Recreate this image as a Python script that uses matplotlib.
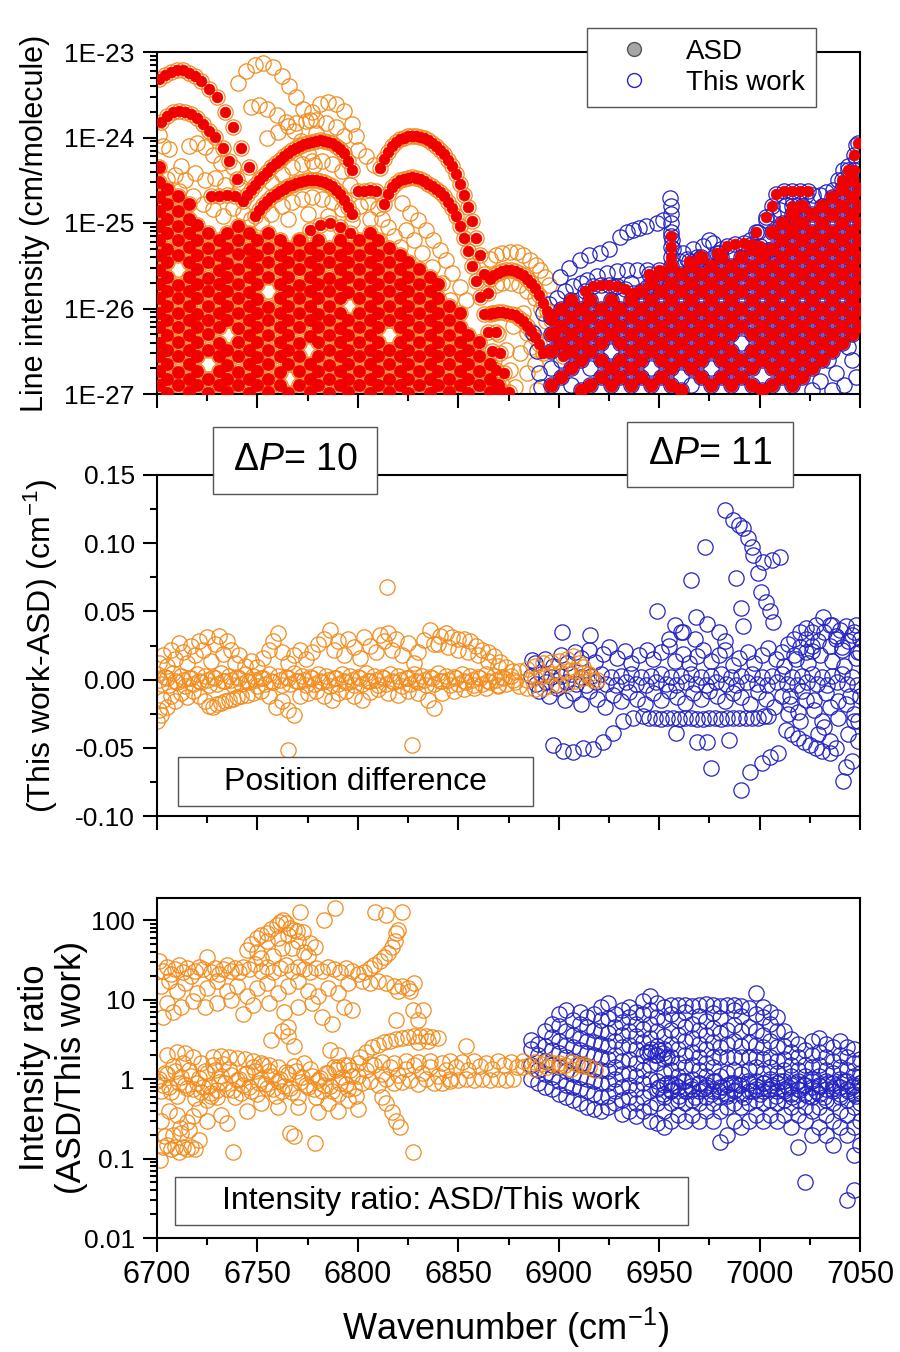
import matplotlib
matplotlib.use('Agg')
import matplotlib.pyplot as plt
from matplotlib.lines import Line2D
from matplotlib.patches import Rectangle
from matplotlib.ticker import MultipleLocator, LogLocator, NullFormatter, FormatStrFormatter

plt.rcParams['font.family'] = ['Liberation Sans', 'DejaVu Sans']
plt.rcParams['mathtext.fontset'] = 'custom'
plt.rcParams['mathtext.rm'] = 'Liberation Sans'
plt.rcParams['mathtext.it'] = 'Liberation Sans:italic'

ORANGE = '#F28C1E'
BLUE = '#2424C4'
RED = '#F00000'

# ---------------- data ----------------
x_ticks = [6700, 6750, 6800, 6850, 6900, 6950, 7000, 7050]
top_ticks = [1e-27, 1e-26, 1e-25, 1e-24, 1e-23]
top_ticklabels = ['1E-27', '1E-26', '1E-25', '1E-24', '1E-23']
ratio_ticks = [0.01, 0.1, 1, 10, 100]
ratio_ticklabels = ['0.01', '0.1', '1', '10', '100']
legend_labels = ['ASD', 'This work']

# top panel, log10 of line intensity (cm/molecule)
# ASD lines, well resolved branches (dP=10)
asd10_arcs = [
    (6701, -23.32), (6704, -23.27), (6707, -23.23), (6710, -23.21), (6713, -23.21), (6716, -23.24),
    (6719, -23.28), (6722, -23.34), (6726, -23.43), (6730, -23.53), (6734, -23.7), (6738, -23.88),
    (6742, -24.12), (6746, -24.35),
    (6702, -23.82), (6705, -23.75), (6708, -23.7), (6711, -23.69), (6714, -23.7), (6717, -23.73),
    (6720, -23.77), (6723, -23.84), (6726, -23.92), (6729, -23.99), (6733, -24.12), (6736, -24.27),
    (6740, -24.48),
    (6727, -24.68), (6731, -24.68), (6735, -24.67), (6739, -24.69),
    (6743, -24.74), (6745, -24.67), (6747, -24.61), (6749, -24.55), (6751, -24.5), (6753, -24.45),
    (6755, -24.4), (6757, -24.35), (6759, -24.3), (6761, -24.26), (6763, -24.22), (6765, -24.18),
    (6767, -24.15), (6769, -24.12), (6771, -24.1), (6773, -24.08), (6775, -24.06), (6777, -24.05),
    (6779, -24.04), (6781, -24.03), (6783, -24.04), (6785, -24.05), (6787, -24.07), (6789, -24.1),
    (6791, -24.13), (6793, -24.18), (6795, -24.27), (6797, -24.38),
    (6749, -24.92), (6751, -24.85), (6753, -24.79), (6755, -24.74), (6757, -24.7), (6759, -24.66),
    (6761, -24.62), (6763, -24.6), (6765, -24.57), (6767, -24.55), (6769, -24.53), (6771, -24.52),
    (6773, -24.51), (6775, -24.5), (6777, -24.5), (6779, -24.5), (6781, -24.51), (6783, -24.52),
    (6785, -24.54), (6787, -24.57), (6789, -24.61), (6791, -24.66), (6793, -24.73), (6795, -24.81),
    (6797, -24.9),
    (6800, -24.62), (6803, -24.62), (6806, -24.61), (6809, -24.63),
    (6811, -24.36), (6813, -24.25), (6815, -24.17), (6817, -24.1), (6819, -24.05), (6821, -24.02),
    (6823, -24.0), (6825, -23.98), (6827, -23.98), (6829, -23.98), (6831, -23.99), (6833, -24.0),
    (6835, -24.03), (6837, -24.06), (6839, -24.1), (6841, -24.15), (6843, -24.19), (6845, -24.26),
    (6847, -24.33), (6849, -24.43), (6851, -24.54), (6853, -24.67), (6855, -24.81), (6857, -24.98),
    (6859, -25.18), (6861, -25.38), (6863, -25.6), (6865, -25.82), (6867, -26.05), (6869, -26.28),
    (6871, -26.52), (6873, -26.76), (6875, -26.98),
    (6813, -24.78), (6815, -24.66), (6817, -24.58), (6819, -24.53), (6821, -24.5), (6823, -24.48),
    (6825, -24.47), (6827, -24.46), (6829, -24.47), (6831, -24.48), (6833, -24.51), (6835, -24.54),
    (6837, -24.57), (6839, -24.6), (6841, -24.64), (6843, -24.69), (6845, -24.75), (6847, -24.83),
    (6849, -24.92), (6851, -25.04), (6853, -25.18), (6855, -25.33), (6857, -25.5), (6859, -25.68),
    (6861, -25.87), (6863, -26.07), (6865, -26.28), (6867, -26.5), (6869, -26.72), (6871, -26.95),
    (6866, -25.66), (6868, -25.61), (6870, -25.58), (6872, -25.56), (6874, -25.55), (6876, -25.55),
    (6878, -25.56), (6880, -25.58), (6882, -25.61), (6884, -25.65), (6886, -25.7), (6888, -25.76),
    (6890, -25.84), (6892, -25.93), (6894, -26.03), (6896, -26.14), (6898, -26.27), (6900, -26.41),
    (6902, -26.56),
    (6866, -26.06), (6868, -26.05), (6870, -26.04), (6872, -26.04), (6874, -26.05), (6876, -26.06),
    (6878, -26.08), (6880, -26.11), (6882, -26.15), (6884, -26.2), (6886, -26.26), (6888, -26.33),
    (6890, -26.42), (6892, -26.52),
    (6771, -25.2), (6776, -25.08), (6781, -25.02), (6786, -25.0), (6791, -25.05), (6796, -25.12),
]

# dense weak ASD lines of dP=10, by column
blob10_x = [6701, 6705, 6710.5, 6716, 6720, 6725.5, 6731, 6735, 6740.5, 6746, 6750, 6755.5,
            6761, 6765, 6770.5, 6776, 6780, 6785.5, 6791, 6795, 6800.5, 6806, 6810, 6815.5,
            6821, 6825, 6830.5, 6836, 6840, 6845.5, 6851, 6855, 6860.5, 6866, 6870]
blob10_logs = [
    [-24.35, -24.52, -24.7, -24.86, -25.03, -25.2, -25.37, -25.55, -25.71, -25.88, -26.05, -26.22, -26.4, -26.56, -26.73, -26.9],
    [-24.6, -24.78, -24.95, -25.12, -25.3, -25.46, -25.63, -25.8, -25.97, -26.14, -26.31, -26.48, -26.65, -26.82, -26.99],
    [-24.69, -24.86, -25.04, -25.2, -25.37, -25.72, -25.88, -26.05, -26.22, -26.39, -26.56, -26.74, -26.9],
    [-24.78, -24.95, -25.12, -25.28, -25.46, -25.63, -25.8, -25.97, -26.14, -26.31, -26.48, -26.65, -26.82, -26.98],
    [-25.02, -25.2, -25.37, -25.54, -25.71, -25.88, -26.06, -26.22, -26.39, -26.56, -26.73, -26.9],
    [-25.12, -25.29, -25.46, -25.64, -25.8, -25.97, -26.14, -26.3, -26.48, -26.82, -26.99],
    [-25.2, -25.37, -25.55, -25.71, -25.88, -26.05, -26.22, -26.4, -26.56, -26.73, -26.9],
    [-25.12, -25.29, -25.47, -25.63, -25.8, -25.97, -26.14, -26.48, -26.66, -26.82, -26.98],
    [-25.03, -25.2, -25.36, -25.54, -25.71, -25.88, -26.05, -26.23, -26.39, -26.56, -26.74, -26.9],
    [-25.12, -25.3, -25.46, -25.63, -25.81, -25.97, -26.14, -26.31, -26.48, -26.65, -26.82, -26.99],
    [-25.2, -25.37, -25.54, -25.71, -25.89, -26.05, -26.22, -26.39, -26.57, -26.73, -26.9],
    [-25.12, -25.29, -25.46, -25.63, -25.98, -26.14, -26.31, -26.48, -26.65, -26.82, -26.98],
    [-25.2, -25.38, -25.54, -25.71, -25.88, -26.05, -26.22, -26.39, -26.56, -26.74, -26.9],
    [-25.29, -25.46, -25.63, -25.8, -25.97, -26.14, -26.31, -26.48, -26.65, -26.99],
    [-25.2, -25.37, -25.54, -25.72, -25.88, -26.05, -26.22, -26.4, -26.56, -26.73, -26.9],
    [-25.29, -25.46, -25.63, -25.8, -25.97, -26.14, -26.32, -26.65, -26.82, -26.98],
    [-25.2, -25.37, -25.54, -25.71, -25.88, -26.06, -26.22, -26.39, -26.56, -26.73, -26.9],
    [-25.29, -25.46, -25.64, -25.8, -25.97, -26.14, -26.31, -26.48, -26.66, -26.82, -26.99],
    [-25.2, -25.37, -25.54, -25.71, -25.88, -26.05, -26.23, -26.39, -26.56, -26.73, -26.9],
    [-25.29, -25.46, -25.63, -25.81, -26.14, -26.31, -26.48, -26.65, -26.82, -26.98],
    [-25.2, -25.37, -25.54, -25.71, -25.88, -26.05, -26.22, -26.39, -26.56, -26.73, -26.9],
    [-25.12, -25.29, -25.46, -25.63, -25.8, -25.97, -26.14, -26.31, -26.48, -26.65, -26.82, -26.99],
    [-25.2, -25.37, -25.54, -25.71, -25.88, -26.05, -26.22, -26.39, -26.56, -26.73, -26.9],
    [-25.29, -25.46, -25.63, -25.8, -25.97, -26.14, -26.48, -26.65, -26.82, -26.98],
    [-25.37, -25.54, -25.71, -25.88, -26.05, -26.22, -26.39, -26.56, -26.73, -26.9],
    [-25.46, -25.63, -25.8, -25.97, -26.14, -26.31, -26.48, -26.65, -26.82, -26.99],
    [-25.54, -25.71, -25.88, -26.05, -26.22, -26.39, -26.56, -26.73, -26.9],
    [-25.63, -25.8, -25.97, -26.14, -26.31, -26.48, -26.65, -26.82, -26.99],
    [-25.71, -25.88, -26.05, -26.22, -26.39, -26.56, -26.73, -26.9],
    [-25.97, -26.14, -26.31, -26.48, -26.65, -26.82, -26.98],
    [-26.05, -26.22, -26.39, -26.56, -26.73, -26.9],
    [-26.31, -26.48, -26.65, -26.82, -26.99],
    [-26.39, -26.56, -26.73, -26.9],
    [-26.65, -26.82, -26.98],
    [-26.9],
]

# dense ASD lines of dP=11, by column
blob11_x = [6896, 6901, 6906, 6911, 6915.5, 6921, 6926, 6930.5, 6936, 6941, 6946, 6951, 6956,
            6961, 6966, 6971, 6976, 6981, 6986, 6991, 6996, 7001, 7006, 7011, 7016, 7021, 7026,
            7031, 7036, 7041, 7046, 7050]
blob11_logs = [
    [-26.1, -26.3, -26.5, -26.9],
    [-26.0, -26.2, -26.4, -26.8],
    [-25.9, -26.1, -26.3, -26.5, -26.7],
    [-26.0, -26.2, -26.4, -26.6, -26.95],
    [-25.9, -26.1, -26.3, -26.5, -26.9],
    [-26.0, -26.2, -26.4, -26.6, -26.8],
    [-25.9, -26.1, -26.3, -26.7, -26.9],
    [-26.0, -26.2, -26.4, -26.6, -26.8],
    [-25.9, -26.1, -26.3, -26.5, -26.7, -26.9],
    [-25.8, -26.0, -26.2, -26.4, -26.6, -26.8],
    [-25.7, -25.9, -26.1, -26.3, -26.5, -26.9],
    [-25.6, -25.8, -26.0, -26.2, -26.4, -26.6, -26.8],
    [-25.5, -25.7, -25.9, -26.1, -26.3, -26.5, -26.7, -26.9],
    [-25.6, -25.8, -26.0, -26.2, -26.4, -26.6, -26.95],
    [-25.5, -25.7, -25.9, -26.1, -26.3, -26.5, -26.7],
    [-25.4, -25.6, -25.8, -26.0, -26.2, -26.4, -26.6, -26.8],
    [-25.5, -25.7, -25.9, -26.1, -26.3, -26.5, -26.9],
    [-25.4, -25.6, -25.8, -26.0, -26.2, -26.4, -26.6, -26.8],
    [-25.5, -25.7, -25.9, -26.1, -26.3, -26.5, -26.7, -26.9],
    [-25.4, -25.6, -25.8, -26.0, -26.2, -26.6, -26.8],
    [-25.3, -25.5, -25.7, -25.9, -26.1, -26.3, -26.5, -26.7, -26.9],
    [-25.4, -25.6, -25.8, -26.0, -26.2, -26.4, -26.6, -26.95],
    [-25.1, -25.3, -25.5, -25.7, -25.9, -26.1, -26.3, -26.5, -26.7, -26.9],
    [-25.0, -25.2, -25.4, -25.6, -25.8, -26.0, -26.2, -26.4, -26.6, -26.8],
    [-24.9, -25.1, -25.3, -25.5, -25.7, -25.9, -26.1, -26.3, -26.5, -26.7, -26.9],
    [-24.8, -25.0, -25.2, -25.4, -25.6, -25.8, -26.0, -26.2, -26.4, -26.6, -26.8],
    [-24.9, -25.1, -25.3, -25.5, -25.7, -25.9, -26.1, -26.3, -26.5, -26.7],
    [-24.8, -25.0, -25.2, -25.4, -25.6, -25.8, -26.0, -26.2, -26.4, -26.6],
    [-24.7, -24.9, -25.1, -25.3, -25.5, -25.7, -25.9, -26.1, -26.3, -26.5],
    [-24.6, -24.8, -25.0, -25.2, -25.4, -25.6, -25.8, -26.0, -26.2, -26.4],
    [-24.5, -24.7, -24.9, -25.1, -25.3, -25.5, -25.7, -25.9, -26.1, -26.3],
    [-24.6, -24.8, -25.0, -25.2, -25.4, -25.6, -25.8, -26.0, -26.2],
]

asd11_lines = [
    (6913, -25.8), (6917, -25.74), (6921, -25.72), (6925, -25.72), (6929, -25.74), (6933, -25.77), (6937, -25.82),
    (6980, -25.35), (6984, -25.27), (6988, -25.24), (6992, -25.23), (6996, -25.24), (7000, -25.27), (7004, -25.32),
    (6998, -25.1), (7003, -24.93), (7006, -24.8), (7008, -24.66), (7012, -24.63), (7016, -24.62), (7020, -24.62),
    (7024, -24.63), (7041, -24.5), (7044, -24.38), (7047, -24.38), (7047, -24.2), (7049, -24.07),
    (6956, -25.15), (6956, -25.28), (6956, -25.4), (7016, -24.8), (7017, -24.92), (7016, -25.05),
    (6978.6, -25.35), (6965, -25.45), (6970, -25.42), (6945, -25.6), (6950, -25.55),
]

# lines of this work without a visible ASD counterpart (dP=10, orange)
tw10_extra = [
    (6740.5, -23.36), (6744.5, -23.22), (6749, -23.15), (6753, -23.13), (6758, -23.17), (6762, -23.28),
    (6765.5, -23.4), (6769, -23.53), (6772.5, -23.67), (6776, -23.8), (6779, -23.95),
    (6777, -23.7), (6781, -23.61), (6785, -23.58), (6789, -23.61), (6793, -23.69), (6797, -23.84), (6799, -23.98),
    (6747, -23.64), (6751, -23.62), (6755, -23.67), (6759.5, -23.74), (6764, -23.82), (6768, -23.92),
    (6771.5, -24.04), (6775, -24.18), (6778, -24.32),
    (6755, -24.0), (6760, -23.93), (6765, -23.87), (6769, -23.83), (6774, -23.81), (6779, -23.8),
    (6784, -23.83), (6789, -23.88), (6793, -23.98),
    (6701, -23.97), (6703, -24.1), (6706, -24.14), (6712, -24.33), (6716, -24.1), (6720, -24.07),
    (6724, -24.11), (6728, -24.2), (6732, -24.3),
    (6705, -24.48), (6709, -24.44), (6714, -24.5), (6719, -24.42), (6724, -24.5), (6729, -24.47),
    (6734, -24.55), (6738, -24.35), (6742, -24.58), (6745, -24.45),
    (6711, -24.62), (6718, -24.68), (6723, -24.78), (6728, -24.84), (6733, -24.92), (6738, -24.83),
    (6743, -24.88), (6747, -24.95),
    (6757, -24.52), (6762, -24.43), (6767, -24.35), (6772, -24.31), (6777, -24.28), (6782, -24.28),
    (6787, -24.31), (6792, -24.39), (6796, -24.55),
    (6752, -25.0), (6757, -24.9), (6762, -24.8), (6767, -24.75), (6772, -24.72), (6777, -24.7),
    (6782, -24.72), (6787, -24.76), (6792, -24.84), (6797, -24.98), (6765, -24.95), (6775, -24.9), (6785, -24.92),
    (6800, -24.15), (6804, -24.22), (6808, -24.32), (6801, -24.8), (6805, -24.75), (6810, -24.82),
    (6806, -24.95), (6812, -24.95), (6815, -25.05), (6818, -25.15),
    (6821.8, -24.77), (6826, -24.88), (6830, -24.97), (6834, -25.08), (6837.5, -25.2), (6841, -25.32),
    (6844, -25.43), (6847, -25.59), (6851, -25.75), (6854, -25.9),
    (6824, -25.08), (6828, -25.2), (6832, -25.35), (6837, -25.51), (6842, -25.7), (6846, -25.9), (6821, -25.28),
    (6866, -25.42), (6869, -25.38), (6872, -25.35), (6875.7, -25.34), (6879, -25.34), (6882, -25.37),
    (6885.7, -25.43), (6888.5, -25.49), (6890.6, -25.55), (6893, -25.63), (6895, -25.72),
    (6869, -25.72), (6872, -25.7), (6876, -25.7), (6880, -25.73), (6884, -25.79), (6888, -25.88),
    (6891, -26.0), (6893.5, -26.15),
    (6877, -26.21), (6884, -26.29), (6880.7, -26.52), (6875.7, -26.72), (6878, -26.92), (6874, -26.48),
    (6882, -26.05), (6886, -26.45), (6884, -26.75), (6870, -26.3), (6868, -26.6), (6872, -26.9),
    (6888, -26.65), (6889, -26.95),
    (6710.5, -25.54), (6725.5, -26.65), (6735, -26.31), (6755.5, -25.8), (6765, -26.82),
    (6776, -26.48), (6795, -25.97), (6815.5, -26.31),
]

# lines of this work without a visible ASD counterpart (dP=11, blue)
tw11_extra = [
    (6887, -26.29), (6889, -26.5), (6890, -26.75), (6891, -26.92), (6892, -26.05), (6895, -25.95),
    (6899, -25.88), (6903, -25.8), (6907, -25.74), (6911, -25.7), (6914, -25.67), (6919, -25.62),
    (6924, -25.59), (6929, -25.56), (6934, -25.55), (6939, -25.55), (6944, -25.55),
    (6900.6, -25.63), (6905, -25.53), (6910.5, -25.43), (6915, -25.38), (6920.5, -25.35), (6925, -25.3),
    (6930.5, -25.16), (6934, -25.11), (6937, -25.08), (6940, -25.06), (6943.7, -25.04), (6948.7, -25.0),
    (6952, -24.96),
    (6955.5, -24.71), (6956, -24.8), (6956, -24.9), (6956, -25.0), (6956, -25.1), (6956.5, -25.2), (6957, -25.3),
    (6962, -25.35), (6967, -25.3), (6972, -25.27), (6977, -25.23), (6975, -25.2), (6960, -25.45),
    (6964, -25.42), (6969, -25.4), (6981, -25.3), (6985, -25.35),
    (6995, -25.2), (6999, -25.1), (7003.4, -24.96), (7006.5, -24.9), (7010, -24.85), (7013, -24.79),
    (7016.6, -24.73), (7020, -24.7), (7023, -24.67), (7026.5, -24.67), (7030, -24.67), (7033, -24.64),
    (7036.6, -24.61), (7039, -24.5), (7041.6, -24.38), (7044, -24.33), (7046.6, -24.42), (7048, -24.09),
    (7048, -24.25),
    (6928, -25.75), (6932, -25.85), (6936, -25.7), (6944, -25.75), (6948, -25.68),
    (7034, -26.6), (7038, -26.75), (7042, -26.9), (7046, -26.6), (7048, -26.8), (7044, -26.45),
    (7030, -26.85), (7026, -26.95), (7036, -26.95),
    (6896, -26.7), (6901, -26.6), (6906, -26.9), (6915.5, -26.7), (6926, -26.5), (6946, -26.7),
    (6966, -26.9), (6976, -26.7), (6991, -26.4), (6941, -26.95), (6961, -26.8),
]

# middle panel: position difference (cm-1)
dp10_core = [
    (6700, 0.004), (6702, -0.003), (6704, 0.002), (6706, -0.004), (6708, 0.005), (6710, -0.002),
    (6712, 0.003), (6714, -0.005), (6716, 0.001), (6718, -0.003), (6720, 0.004), (6722, -0.002),
    (6724, 0.003), (6726, -0.004), (6728, 0.002), (6730, -0.003), (6732, 0.005), (6734, -0.001),
    (6736, 0.003), (6738, -0.004), (6740, 0.002), (6742, -0.003), (6744, 0.004), (6746, -0.002),
    (6748, 0.003), (6750, -0.005), (6752, 0.001), (6754, -0.003), (6756, 0.004), (6758, -0.002),
    (6760, 0.003), (6762, -0.004), (6764, 0.002), (6766, -0.003), (6768, 0.005), (6770, -0.001),
    (6772, 0.003), (6774, -0.004), (6776, 0.002), (6778, -0.003), (6780, 0.004), (6782, -0.002),
    (6784, 0.003), (6786, -0.005), (6788, 0.001), (6790, -0.003), (6792, 0.004), (6794, -0.002),
    (6796, 0.003), (6798, -0.004), (6800, 0.002), (6802, -0.003), (6804, 0.005), (6806, -0.001),
    (6808, 0.003), (6810, -0.004), (6812, 0.002), (6814, -0.003), (6816, 0.004), (6818, -0.002),
    (6820, 0.003), (6822, -0.005), (6824, 0.001), (6826, -0.003), (6828, 0.004), (6830, -0.002),
    (6832, 0.003), (6834, -0.004), (6836, 0.002), (6838, -0.003), (6840, 0.005), (6842, -0.001),
    (6844, 0.003), (6846, -0.004), (6848, 0.002), (6850, -0.003), (6852, 0.004), (6854, -0.002),
    (6856, 0.003), (6858, -0.004), (6860, 0.002), (6862, -0.003), (6864, 0.004), (6866, -0.002),
    (6868, 0.003), (6870, -0.004), (6872, 0.002), (6874, -0.003), (6876, 0.003), (6878, -0.002),
    (6701, 0.0), (6705, 0.001), (6709, -0.001), (6713, 0.0), (6717, 0.001), (6721, -0.001),
    (6725, 0.0), (6729, 0.001), (6733, -0.001), (6737, 0.0), (6741, 0.001), (6745, -0.001),
    (6749, 0.0), (6753, 0.001), (6757, -0.001), (6761, 0.0), (6765, 0.001), (6769, -0.001),
    (6773, 0.0), (6777, 0.001), (6781, -0.001), (6785, 0.0), (6789, 0.001), (6793, -0.001),
    (6797, 0.0), (6801, 0.001), (6805, -0.001), (6809, 0.0), (6813, 0.001), (6817, -0.001),
    (6821, 0.0), (6825, 0.001), (6829, -0.001), (6833, 0.0), (6837, 0.001), (6841, -0.001),
    (6845, 0.0), (6849, 0.001), (6853, -0.001), (6857, 0.0), (6861, 0.001), (6865, -0.001),
    (6869, 0.0), (6873, 0.001), (6877, 0.0),
]
dp10_cloud = [
    (6701, 0.012), (6703, 0.018), (6705, 0.01), (6707, 0.022), (6709, 0.015), (6711, 0.027),
    (6713, 0.02), (6715, 0.012), (6717, 0.025), (6719, 0.018), (6721, 0.028), (6723, 0.022),
    (6725, 0.031), (6727, 0.014), (6729, 0.026), (6731, 0.032), (6733, 0.019), (6735, 0.028),
    (6737, 0.022), (6739, 0.012), (6741, 0.018), (6744, 0.01), (6747, 0.014), (6750, 0.009),
    (6753, 0.016), (6756, 0.022), (6758, 0.028), (6760, 0.034), (6762, 0.02), (6765, 0.012),
    (6768, 0.018), (6771, 0.022), (6774, 0.015), (6777, 0.02), (6780, 0.026), (6783, 0.03),
    (6786, 0.036), (6788, 0.022), (6790, 0.028), (6793, 0.018), (6795, 0.03), (6798, 0.024),
    (6801, 0.016), (6803, 0.031), (6806, 0.025), (6809, 0.02), (6811, 0.033), (6813, 0.028),
    (6815, 0.034), (6817, 0.022), (6819, 0.03), (6822, 0.018), (6825, 0.027), (6828, 0.012),
    (6830, 0.02), (6833, 0.029), (6836, 0.036), (6838, 0.026), (6841, 0.032), (6844, 0.034),
    (6847, 0.031), (6850, 0.03), (6853, 0.03), (6856, 0.028), (6859, 0.025), (6862, 0.022),
    (6865, 0.02), (6868, 0.017), (6871, 0.013), (6874, 0.009), (6877, 0.006),
    (6840, 0.026), (6845, 0.024), (6850, 0.022), (6855, 0.02), (6860, 0.018), (6865, 0.014), (6870, 0.01),
    (6814.3, 0.068), (6765, -0.0515), (6826.8, -0.048),
    (6700, -0.03), (6701, -0.022), (6702, -0.026), (6703, -0.015), (6705, -0.02), (6707, -0.012),
    (6709, -0.016), (6712, -0.01), (6715, -0.013), (6718, -0.008), (6721, -0.012), (6724, -0.016),
    (6726, -0.019), (6728, -0.02), (6730, -0.018), (6732, -0.017), (6734, -0.016), (6736, -0.015),
    (6738, -0.014), (6740, -0.013), (6742, -0.012), (6745, -0.011), (6748, -0.01), (6752, -0.008),
    (6756, -0.012), (6759, -0.02), (6762, -0.016), (6765, -0.022), (6768, -0.026), (6771, -0.012),
    (6775, -0.01), (6779, -0.008), (6783, -0.012), (6787, -0.015), (6790, -0.01), (6794, -0.008),
    (6798, -0.012), (6802, -0.015), (6806, -0.009), (6810, -0.007), (6815, -0.01), (6820, -0.011),
    (6825, -0.008), (6830, -0.01), (6835, -0.015), (6838, -0.021), (6842, -0.01), (6848, -0.008),
    (6853, -0.007), (6858, -0.006), (6864, -0.006), (6870, -0.005),
    (6880, 0.006), (6884, 0.008), (6888, 0.01), (6892, 0.012), (6896, 0.013), (6900, 0.014),
    (6904, 0.015), (6907, 0.017), (6910, 0.012), (6912, 0.009), (6915, 0.004), (6917, 0.0), (6919, 0.0),
    (6880, -0.005), (6884, -0.006), (6888, -0.007), (6892, -0.006), (6896, -0.005), (6900, -0.004),
    (6904, -0.003), (6908, -0.001), (6912, 0.001), (6916, 0.002),
    (6884, 0.0), (6888, 0.001), (6892, 0.003), (6896, 0.004), (6900, 0.005), (6904, 0.006),
    (6908, 0.007), (6912, 0.005),
]
dp11_core = [
    (6886, 0.003), (6888.5, -0.003), (6891, 0.004), (6893.5, -0.002), (6896, 0.002), (6898.5, -0.004),
    (6901, 0.003), (6903.5, -0.002), (6906, 0.004), (6908.5, -0.003), (6911, 0.002), (6913.5, -0.004),
    (6916, 0.003), (6918.5, -0.002), (6921, 0.004), (6923.5, -0.003), (6926, 0.002), (6928.5, -0.004),
    (6931, 0.003), (6933.5, -0.002), (6936, 0.004), (6938.5, -0.003), (6941, 0.002), (6943.5, -0.004),
    (6946, 0.003), (6948.5, -0.002), (6951, 0.004), (6953.5, -0.003), (6956, 0.002), (6958.5, -0.004),
    (6961, 0.003), (6963.5, -0.002), (6966, 0.004), (6968.5, -0.003), (6971, 0.002), (6973.5, -0.004),
    (6976, 0.003), (6978.5, -0.002), (6981, 0.004), (6983.5, -0.003), (6986, 0.002), (6988.5, -0.004),
    (6991, 0.003), (6993.5, -0.002), (6996, 0.004), (6998.5, -0.003), (7001, 0.002), (7003.5, -0.004),
    (7006, 0.003), (7008.5, -0.002), (7011, 0.004), (7013.5, -0.003), (7016, 0.002), (7018.5, -0.004),
    (7021, 0.003), (7023.5, -0.002), (7026, 0.004), (7028.5, -0.003), (7031, 0.002), (7033.5, -0.004),
    (7036, 0.003), (7038.5, -0.002), (7041, 0.004), (7043.5, -0.003), (7046, 0.002), (7048.5, -0.004),
]
dp11_cloud = [
    (6888, 0.012), (6893, 0.015), (6897, 0.01), (6901, 0.018), (6904, 0.012), (6908, 0.02),
    (6911, 0.016), (6915, 0.022), (6918, 0.013), (6922, 0.019), (6925, 0.024), (6929, 0.016),
    (6933, 0.021), (6936, 0.012), (6940, 0.018), (6944, 0.022), (6947, 0.015), (6951, 0.02),
    (6955, 0.025), (6958, 0.014), (6962, 0.019), (6965, 0.012), (6969, 0.017), (6972, 0.022),
    (6976, 0.014), (6980, 0.018), (6983, 0.022), (6987, 0.011), (6990, 0.016), (6994, 0.02),
    (6997, 0.012), (7001, 0.018), (7004, 0.023), (7008, 0.015), (7011, 0.02), (7014, 0.026),
    (7017, 0.018), (7020, 0.024), (7023, 0.03), (7026, 0.021), (7029, 0.028), (7032, 0.035),
    (7035, 0.025), (7038, 0.032), (7041, 0.022), (7044, 0.028), (7047, 0.035), (7049, 0.02),
    (6968, 0.03), (6962, 0.035), (6955, 0.03),
    (6982.7, 0.124), (6986.7, 0.117), (6990, 0.113), (6991.7, 0.111), (6994, 0.104), (6996, 0.0975),
    (6996.7, 0.0914), (7001.6, 0.0865), (7006, 0.0877), (7010, 0.09), (6999, 0.078), (7000.9, 0.0645),
    (7003.4, 0.057), (7005, 0.05), (7006.8, 0.0425), (6972.8, 0.0975), (6966, 0.073), (6988.5, 0.0745),
    (6991, 0.0525), (6948.7, 0.05), (6901.4, 0.035), (6915.6, 0.0327), (6886.5, 0.0144), (6958, 0.04),
    (6961, 0.035), (6980, 0.035), (6983, 0.028), (7031.5, 0.046), (7043, 0.039), (7036, 0.04),
    (7026, 0.035), (7048, 0.04), (6968.5, 0.046), (6973.6, 0.041), (6991.7, 0.039),
    (6890, -0.008), (6895, -0.012), (6899, -0.006), (6903, -0.015), (6907, -0.01), (6911, -0.018),
    (6915, -0.008), (6919, -0.014), (6923, -0.02), (6927, -0.011), (6931, -0.016), (6935, -0.009),
    (6939, -0.014), (6943, -0.018), (6947, -0.01), (6951, -0.015), (6955, -0.008), (6959, -0.013),
    (6963, -0.017), (6967, -0.01), (6971, -0.014), (6975, -0.008), (6979, -0.012), (6983, -0.016),
    (6987, -0.01), (6991, -0.013), (6995, -0.018), (6999, -0.009), (7003, -0.014), (7007, -0.02),
    (7011, -0.012), (7015, -0.018), (7019, -0.024), (7023, -0.015), (7027, -0.022), (7031, -0.03),
    (7035, -0.02), (7039, -0.028), (7043, -0.018), (7047, -0.025), (7050, -0.012),
    (6942, -0.027), (6945, -0.028), (6948, -0.028), (6951, -0.029), (6954, -0.028), (6957, -0.028),
    (6960, -0.029), (6963, -0.028), (6966, -0.028), (6969, -0.029), (6972, -0.029), (6975, -0.028),
    (6978, -0.028), (6981, -0.029), (6984, -0.028), (6987, -0.028), (6990, -0.028), (6993, -0.028),
    (6996, -0.028), (6999, -0.028), (7002, -0.027), (7004, -0.027),
    (6897, -0.048), (6902, -0.052), (6907, -0.053), (6912, -0.05), (6917, -0.051), (6922, -0.046),
    (6927, -0.039), (6932, -0.03), (6937, -0.028),
    (6958.6, -0.039), (6968.6, -0.0455), (6974, -0.046), (6985, -0.044), (6976, -0.065), (6991, -0.081),
    (6995, -0.0675), (7001, -0.061), (7005, -0.057), (7009, -0.054),
    (7013, -0.037), (7016, -0.04), (7019, -0.043), (7022, -0.046), (7025, -0.048), (7028, -0.05),
    (7031, -0.052), (7035, -0.054), (7038, -0.05), (7041.5, -0.074), (7043, -0.064), (7046, -0.06),
    (7049, -0.045), (7049, -0.03),
    (7020, 0.035), (7023, 0.038), (7028, 0.04), (7035, 0.04), (7040, 0.036), (7046, 0.033), (7050, 0.03),
    (7012, 0.01), (7015, -0.012), (7018, 0.015), (7021, -0.008), (7024, 0.012), (7027, -0.015),
    (7030, 0.018), (7033, -0.01), (7036, 0.014), (7039, -0.016), (7042, 0.01), (7045, -0.012),
    (7048, 0.016), (7014, -0.025), (7020, -0.03), (7026, 0.025), (7032, -0.035), (7038, 0.03),
    (7044, -0.04), (7050, 0.02), (7017, 0.03), (7035, -0.045), (7041, 0.024), (7047, -0.03),
    (7029, -0.04), (7023, 0.02),
]

# bottom panel: intensity ratio ASD / this work
r10_points = [
    (6700, 0.95), (6702, 0.7), (6704, 1.2), (6706, 0.8), (6708, 1.45), (6710, 0.62), (6712, 1.05),
    (6714, 0.85), (6716, 1.3), (6718, 0.75), (6720, 0.9), (6722, 0.68), (6724, 1.25), (6726, 0.82),
    (6728, 1.5), (6730, 0.6), (6732, 1.1), (6734, 0.88), (6736, 1.35), (6738, 0.72), (6740, 0.98),
    (6742, 0.66), (6744, 1.15), (6746, 0.8), (6748, 1.4), (6750, 0.64), (6752, 1.0), (6754, 0.86),
    (6756, 1.28), (6758, 0.74), (6760, 0.94), (6762, 0.7), (6764, 1.22), (6766, 0.78), (6768, 1.45),
    (6770, 0.6), (6772, 1.05), (6774, 0.84), (6776, 1.32), (6778, 0.76), (6780, 0.96), (6782, 0.7),
    (6784, 1.18), (6786, 0.82), (6788, 1.42), (6790, 0.64), (6792, 1.06), (6794, 0.86), (6796, 1.3),
    (6798, 0.78), (6800, 1.1), (6802, 0.9), (6804, 1.3), (6806, 0.95), (6808, 1.5), (6810, 0.85),
    (6812, 1.15), (6814, 1.0), (6816, 1.4), (6818, 0.9), (6820, 1.12), (6822, 0.92), (6824, 1.32),
    (6826, 0.96), (6828, 1.5), (6830, 0.86), (6832, 1.18), (6834, 1.0), (6836, 1.42), (6838, 0.9),
    (6840, 1.1), (6842, 0.9), (6844, 1.3), (6846, 0.95),
    (6701, 1.0), (6703, 0.85), (6705, 1.15), (6707, 0.68), (6709, 1.25), (6711, 0.9), (6713, 1.6),
    (6715, 0.78), (6717, 1.1), (6719, 0.58), (6721, 1.02), (6723, 0.8), (6725, 1.2), (6727, 0.66),
    (6729, 1.3), (6731, 0.92), (6733, 1.55), (6735, 0.76), (6737, 1.12), (6739, 0.6), (6741, 1.0),
    (6743, 0.84), (6745, 1.18), (6747, 0.7), (6749, 1.28), (6751, 0.9), (6753, 1.5), (6755, 0.78),
    (6757, 1.08), (6759, 0.62), (6761, 1.0), (6763, 0.82), (6765, 1.16), (6767, 0.68), (6769, 1.26),
    (6771, 0.92), (6773, 1.58), (6775, 0.8), (6777, 1.1), (6779, 0.6), (6781, 1.02), (6783, 0.84),
    (6785, 1.2), (6787, 0.7), (6789, 1.3), (6791, 0.9), (6793, 1.5), (6795, 0.76), (6797, 1.1), (6799, 0.62),
    (6705, 2.0), (6710, 2.2), (6714, 2.1), (6718, 1.9), (6722, 1.6), (6728, 1.9), (6732, 1.95),
    (6736, 1.9), (6740, 1.85), (6744, 1.8), (6748, 1.7), (6752, 1.6), (6756, 1.5), (6760, 1.4),
    (6801, 1.9), (6804, 2.2), (6807, 2.5), (6810, 2.7), (6813, 2.9), (6816, 3.0), (6819, 3.2),
    (6822, 3.3), (6825, 3.4), (6828, 3.5), (6831, 3.5), (6834, 3.5), (6837, 3.4), (6840, 3.3),
    (6830, 2.9), (6835, 3.0),
    (6790, 1.4), (6795, 1.5), (6800, 1.6), (6806, 1.55), (6812, 1.65), (6818, 1.6), (6824, 1.7),
    (6830, 1.65), (6836, 1.7), (6842, 1.6), (6846, 1.7), (6852, 1.65), (6858, 1.7), (6864, 1.6),
    (6870, 1.7), (6876, 1.65), (6882, 1.7), (6888, 1.65), (6894, 1.7), (6900, 1.6), (6906, 1.65),
    (6912, 1.55), (6854, 2.6),
    (6849, 1.4), (6855, 1.3), (6861, 1.45), (6867, 1.35), (6873, 1.5), (6879, 1.4), (6882, 1.4),
    (6885, 1.5), (6888, 1.35), (6891, 1.55), (6894, 1.4), (6897, 1.6), (6900, 1.45), (6903, 1.5),
    (6906, 1.35), (6909, 1.55), (6912, 1.45), (6915, 1.4), (6918, 1.3),
    (6846, 1.0), (6850, 0.98), (6854, 1.0), (6858, 0.97), (6862, 1.0), (6866, 0.98), (6870, 1.0),
    (6874, 0.97), (6877, 0.99),
    (6701, 31), (6703, 23), (6705, 26), (6707, 21), (6709, 24), (6711, 27), (6713, 22), (6715, 25),
    (6717, 20), (6719, 23), (6721, 26), (6723, 24), (6725, 34), (6727, 22), (6729, 25), (6731, 21),
    (6733, 24), (6735, 27), (6737, 23), (6739, 25), (6741, 22), (6743, 26), (6746, 24), (6749, 28),
    (6752, 23), (6755, 26), (6758, 22), (6761, 25), (6764, 27), (6767, 23), (6770, 26), (6773, 24),
    (6776, 22), (6779, 25), (6782, 23), (6785, 26), (6788, 24), (6791, 22), (6794, 25), (6797, 23),
    (6702, 15), (6706, 17), (6710, 13), (6714, 16), (6720, 12), (6725, 14), (6730, 17), (6735, 13),
    (6740, 15), (6745, 11), (6750, 14), (6755, 16), (6760, 12), (6765, 15), (6770, 17), (6775, 13),
    (6780, 11), (6785, 14), (6790, 12), (6795, 16),
    (6705, 9), (6703, 6), (6708, 7), (6712, 8), (6718, 9.5), (6724, 8), (6730, 9), (6737, 10),
    (6743, 6.5), (6748, 8.5), (6756, 9), (6763, 7), (6770, 8), (6777, 9), (6782, 6), (6787, 5),
    (6793, 8), (6797, 7.5), (6819, 5.5), (6827.6, 7.4), (6832.6, 7.4), (6830, 5.5),
    (6744.6, 42), (6747, 50), (6749.6, 59), (6752, 65), (6754.6, 68), (6757, 78), (6759.6, 87),
    (6761, 95), (6762.8, 100), (6764, 92), (6766, 79), (6768, 75), (6769.5, 74), (6772.7, 71),
    (6776, 51), (6778.6, 46), (6750, 40), (6755, 55), (6760, 60), (6765, 65), (6770, 55), (6773, 40),
    (6775, 35), (6758, 35), (6752, 33), (6762, 45), (6767, 45),
    (6800, 21), (6803, 22), (6806, 25), (6808, 27), (6811, 31), (6813, 34), (6815, 39), (6817, 46),
    (6818.5, 55), (6819, 69), (6820, 75),
    (6802, 17), (6806, 16), (6810, 17), (6814, 16), (6818, 15), (6822, 15), (6825, 14), (6828, 16),
    (6826, 13), (6820, 13),
    (6771, 127), (6783, 100), (6788.6, 141), (6808.5, 127), (6814, 115), (6822, 127),
    (6701.5, 0.095), (6703, 0.14), (6705, 0.15), (6707, 0.13), (6709, 0.14), (6711, 0.12), (6713, 0.14),
    (6715, 0.13), (6717, 0.14), (6719, 0.13), (6704, 0.19), (6708, 0.2), (6712, 0.21), (6716, 0.23),
    (6711.5, 0.24), (6715, 0.29), (6718, 0.34), (6721, 0.42), (6724.7, 0.54), (6727, 0.62),
    (6729.7, 0.72), (6721, 0.17), (6738, 0.12), (6766, 0.21), (6768, 0.19), (6778.6, 0.155),
    (6827.6, 0.12), (6821, 0.25), (6819, 0.3), (6817, 0.38), (6814, 0.5), (6812, 0.6), (6760, 0.45),
    (6790, 0.4), (6780, 0.38), (6800, 0.42), (6702, 0.3), (6706, 0.4), (6710, 0.35), (6725, 0.3),
    (6732, 0.35), (6735, 0.28), (6745, 0.4), (6752, 0.5), (6770, 0.45), (6785, 0.5), (6795, 0.55),
    (6757, 3.1), (6762, 4.0), (6765, 3.5), (6768, 2.6), (6786, 2.3), (6790, 2.0), (6765, 4.5),
]

r11_x = [6886, 6889.5, 6893, 6896.5, 6900, 6903.5, 6907, 6910.5, 6914, 6917.5, 6921, 6924.5,
         6928, 6931.5, 6935, 6938.5, 6942, 6945.5, 6949, 6952.5, 6956, 6959.5, 6963, 6966.5,
         6970, 6973.5, 6977, 6980.5, 6984, 6987.5, 6991, 6994.5, 6998, 7001.5, 7005, 7008.5,
         7012, 7015.5, 7019, 7022.5, 7026, 7029.5, 7033, 7036.5, 7040, 7043.5, 7047, 7050]
r11_cols = [
    [1.0, 1.5, 2.4, 3.1],
    [0.9, 1.3, 2.0, 2.8],
    [0.8, 1.15, 1.7, 2.6, 4.0],
    [0.75, 1.05, 1.5, 2.3, 3.4, 5.0],
    [0.65, 0.95, 1.4, 2.1, 3.0, 4.6, 6.5],
    [0.6, 0.85, 1.25, 1.9, 2.7, 4.0, 7.4],
    [0.55, 0.8, 1.15, 1.7, 2.5, 3.6, 5.5],
    [0.5, 0.75, 1.05, 1.55, 2.3, 3.3, 5.0, 7.0],
    [0.45, 0.7, 1.0, 1.45, 2.1, 3.0, 4.5, 6.0],
    [0.42, 0.65, 0.95, 1.35, 2.0, 2.9, 4.2, 6.5],
    [0.4, 0.6, 0.9, 1.3, 1.9, 2.8, 4.0, 5.5, 8.0],
    [0.45, 0.62, 0.88, 1.25, 1.8, 2.6, 3.8, 5.8, 9.0],
    [0.5, 0.7, 1.0, 1.4, 2.0, 3.0, 4.5, 6.5],
    [0.36, 0.55, 0.8, 1.15, 1.7, 2.5, 3.6, 5.2, 7.5],
    [0.4, 0.6, 0.85, 1.2, 1.8, 2.7, 4.0, 6.0, 8.0],
    [0.34, 0.5, 0.75, 1.1, 1.6, 2.4, 3.5, 5.0, 7.0],
    [0.4, 0.6, 0.9, 1.3, 2.0, 2.9, 4.3, 6.5, 9.5],
    [0.3, 0.45, 0.7, 1.0, 1.5, 2.2, 3.3, 5.0, 7.5, 11.0],
    [0.28, 0.5, 0.75, 0.95, 1.6, 2.0, 2.6, 4.0, 6.0, 9.0],
    [0.25, 0.4, 0.6, 0.85, 1.2, 1.8, 2.4, 3.5, 5.5, 8.0],
    [0.3, 0.5, 0.7, 0.9, 1.3, 1.9, 2.8, 4.2, 6.5, 8.5],
    [0.35, 0.55, 0.8, 1.1, 1.6, 2.4, 3.6, 5.5, 8.5],
    [0.3, 0.5, 0.7, 0.95, 1.4, 2.0, 3.0, 4.5, 7.0, 8.6],
    [0.35, 0.55, 0.75, 1.0, 1.5, 2.2, 3.3, 5.0, 8.4],
    [0.3, 0.5, 0.7, 0.9, 1.3, 1.9, 2.8, 4.2, 6.2, 8.5],
    [0.4, 0.6, 0.8, 1.1, 1.6, 2.4, 3.6, 5.4, 8.7],
    [0.3, 0.5, 0.7, 0.95, 1.4, 1.9, 2.9, 4.4, 6.8, 8.5],
    [0.16, 0.4, 0.6, 0.8, 1.1, 1.9, 2.5, 3.8, 5.8, 8.4],
    [0.2, 0.45, 0.65, 0.85, 1.2, 1.9, 2.8, 4.2, 8.6],
    [0.3, 0.5, 0.7, 0.9, 1.3, 1.9, 3.0, 4.8, 7.5, 8.5],
    [0.25, 0.45, 0.65, 0.85, 1.15, 1.9, 2.6, 4.0, 6.2, 8.4],
    [0.3, 0.5, 0.7, 0.9, 1.3, 1.9, 2.9, 4.5, 7.8],
    [0.35, 0.55, 0.75, 0.95, 1.4, 1.9, 2.7, 4.0, 6.5, 12.0],
    [0.3, 0.5, 0.7, 0.9, 1.2, 1.8, 2.5, 3.6, 6.0, 8.0],
    [0.35, 0.55, 0.75, 1.0, 1.4, 1.9, 3.0, 5.0, 7.0],
    [0.3, 0.5, 0.7, 0.9, 1.2, 1.7, 2.5, 4.0, 6.0],
    [0.35, 0.55, 0.75, 0.95, 1.3, 1.8, 2.6, 4.0],
    [0.25, 0.45, 0.65, 0.85, 1.1, 1.5, 2.2, 3.2],
    [0.14, 0.35, 0.55, 0.75, 0.95, 1.3, 1.9, 2.8],
    [0.051, 0.3, 0.45, 0.65, 0.85, 1.1, 1.5, 2.3],
    [0.2, 0.4, 0.6, 0.8, 1.0, 1.4, 2.0, 3.0],
    [0.25, 0.45, 0.65, 0.85, 1.1, 1.5, 2.2, 3.3],
    [0.2, 0.35, 0.55, 0.75, 0.95, 1.3, 1.9, 2.8],
    [0.15, 0.3, 0.5, 0.7, 0.9, 1.2, 1.7, 2.5],
    [0.25, 0.4, 0.6, 0.8, 1.0, 1.4, 2.0, 3.0],
    [0.03, 0.2, 0.35, 0.55, 0.75, 0.95, 1.3, 1.9, 2.5],
    [0.04, 0.11, 0.25, 0.45, 0.65, 0.85, 1.1, 1.6, 2.4],
    [0.15, 0.3, 0.5, 0.7, 0.9, 1.2, 1.8],
]
r11_core = [
    (6950, 0.8), (6952, 0.65), (6954, 0.9), (6956, 0.72), (6958, 0.85), (6960, 0.62), (6962, 0.95),
    (6964, 0.7), (6966, 0.82), (6968, 0.6), (6970, 0.9), (6972, 0.75), (6974, 0.85), (6976, 0.65),
    (6978, 0.95), (6980, 0.7), (6982, 0.8), (6984, 0.62), (6986, 0.9), (6988, 0.72), (6990, 0.85),
    (6992, 0.6), (6994, 0.95), (6996, 0.7), (6998, 0.82), (7000, 0.65), (7002, 0.9), (7004, 0.75),
    (7006, 0.85), (7008, 0.62), (7010, 0.95), (7012, 0.7), (7014, 0.8), (7016, 0.6), (7018, 0.9),
    (7020, 0.72), (7022, 0.85), (7024, 0.62), (7026, 0.95), (7028, 0.7), (7030, 0.82), (7032, 0.6),
    (7034, 0.9), (7036, 0.75), (7038, 0.85), (7040, 0.65), (7042, 0.95), (7044, 0.7), (7046, 0.8),
    (7048, 0.62), (7050, 0.9),
    (6944, 2.2), (6946, 2.4), (6948, 2.0), (6950, 2.3), (6952, 2.1), (6954, 1.9),
]


def pairs_xy(pairs):
    return [p[0] for p in pairs], [p[1] for p in pairs]


def cols_xy(xs, cols):
    ox, oy = [], []
    for x, col in zip(xs, cols):
        ox += [x] * len(col)
        oy += list(col)
    return ox, oy


def unlog(vals):
    return [10.0 ** v for v in vals]


# assemble series
arc10_x, arc10_y = pairs_xy(asd10_arcs)
b10_x, b10_y = cols_xy(blob10_x, blob10_logs)
b11_x, b11_y = cols_xy(blob11_x, blob11_logs)
a11_x, a11_y = pairs_xy(asd11_lines)
e10_x, e10_y = pairs_xy(tw10_extra)
e11_x, e11_y = pairs_xy(tw11_extra)

tw10_x = arc10_x + b10_x + e10_x
tw10_y = arc10_y + b10_y + e10_y
tw11_x = b11_x + a11_x + e11_x
tw11_y = b11_y + a11_y + e11_y

# ---------------- figure ----------------
W, H = 900, 1352
fig = plt.figure(figsize=(W / 100, H / 100), dpi=100)
ax1 = fig.add_axes([157 / W, 1 - 394 / H, 703 / W, 342 / H])
ax2 = fig.add_axes([157 / W, 1 - 816 / H, 703 / W, 341 / H])
ax3 = fig.add_axes([157 / W, 1 - 1238 / H, 703 / W, 340 / H])

open_kw = dict(ls='none', marker='o', ms=11, mfc='none', mew=0.9)
asd_kw = dict(ls='none', marker='o', mfc=RED, mec=RED, mew=0.4, zorder=3)

# top panel
ax1.plot(tw10_x, unlog(tw10_y), mec=ORANGE, zorder=2, **open_kw)
ax1.plot(tw11_x, unlog(tw11_y), mec=BLUE, zorder=2, **open_kw)
ax1.plot(b10_x, unlog(b10_y), ms=9, **asd_kw)
ax1.plot(b11_x, unlog(b11_y), ms=9.6, **asd_kw)
ax1.plot(arc10_x + a11_x, unlog(arc10_y + a11_y), ms=7.8, **asd_kw)
ax1.set_yscale('log')
ax1.set_ylim(1e-27, 1e-23)
ax1.set_yticks(top_ticks, labels=top_ticklabels)

# middle panel
m11 = pairs_xy(dp11_core + dp11_cloud)
m10 = pairs_xy(dp10_core + dp10_cloud)
ax2.plot(m11[0], m11[1], mec=BLUE, **open_kw)
ax2.plot(m10[0], m10[1], mec=ORANGE, **open_kw)
ax2.set_ylim(-0.10, 0.15)
ax2.yaxis.set_major_locator(MultipleLocator(0.05))
ax2.yaxis.set_minor_locator(MultipleLocator(0.025))
ax2.yaxis.set_major_formatter(FormatStrFormatter('%.2f'))

# bottom panel
c11_x, c11_y = cols_xy(r11_x, r11_cols)
k11_x, k11_y = pairs_xy(r11_core)
q10_x, q10_y = pairs_xy(r10_points)
ax3.plot(c11_x + k11_x, c11_y + k11_y, mec=BLUE, **open_kw)
ax3.plot(q10_x, q10_y, mec=ORANGE, **open_kw)
ax3.set_yscale('log')
ax3.set_ylim(0.01, 190)
ax3.set_yticks(ratio_ticks, labels=ratio_ticklabels)

for ax in (ax1, ax2, ax3):
    ax.set_xlim(6700, 7050)
    ax.set_xticks(x_ticks)
    ax.xaxis.set_minor_locator(MultipleLocator(25))
    for s in ax.spines.values():
        s.set_linewidth(1.5)
    ax.tick_params(which='major', direction='out', length=10, width=1.5, labelsize=19, pad=6)
    ax.tick_params(which='minor', direction='out', length=5, width=1.5)
    ax.tick_params(axis='x', labelsize=22)
for ax in (ax1, ax3):
    ax.yaxis.set_minor_locator(LogLocator(base=10, subs=[2, 3, 4, 5, 6, 7, 8, 9], numticks=20))
    ax.yaxis.set_minor_formatter(NullFormatter())
ax1.tick_params(axis='x', labelbottom=False)
ax2.tick_params(axis='x', labelbottom=False)

ax1.set_ylabel('Line intensity (cm/molecule)', fontsize=22)
ax1.yaxis.set_label_coords(-0.152, 0.5)
ax2.set_ylabel('(This work-ASD) (cm$^{-1}$)', fontsize=23)
ax2.yaxis.set_label_coords(-0.138, 0.5)
ax3.set_ylabel('Intensity ratio\n(ASD/This work)', fontsize=25, linespacing=1.15)
ax3.yaxis.set_label_coords(-0.098, 0.5)
ax3.set_xlabel('Wavenumber (cm$^{-1}$)', fontsize=26)
ax3.xaxis.set_label_coords(0.496, -0.2)

handles = [
    Line2D([], [], ls='none', marker='o', ms=10, mfc='#A6A6A6', mec='#555555', mew=1.0),
    Line2D([], [], ls='none', marker='o', ms=10, mfc='none', mec=BLUE, mew=1.0),
]
leg = ax1.legend(handles, legend_labels, loc='upper right', bbox_to_anchor=(0.937, 1.07),
                 borderaxespad=0, fancybox=False, framealpha=1, edgecolor='#555555', fontsize=20,
                 handlelength=2.6, handletextpad=0.6, borderpad=0.38, labelspacing=0.2)
leg.get_frame().set_linewidth(1.0)


def label_box(x0, y0, x1, y1, text, size):
    fig.add_artist(Rectangle((x0 / W, 1 - y1 / H), (x1 - x0) / W, (y1 - y0) / H,
                             transform=fig.transFigure, fc='white', ec='#555555', lw=1.0, zorder=10))
    fig.text((x0 + x1) / 2 / W, 1 - (y0 + y1) / 2 / H, text, ha='center', va='center',
             fontsize=size, zorder=11)


label_box(213, 427, 377, 494, '$\\mathit{\u0394P}$= 10', 27)
label_box(627, 422, 793, 487, '$\\mathit{\u0394P}$= 11', 27)
label_box(178, 757, 533, 806, 'Position difference', 23)
label_box(175, 1177, 688, 1225, 'Intensity ratio: ASD/This work', 23)

fig.savefig('out.png', dpi=100)
